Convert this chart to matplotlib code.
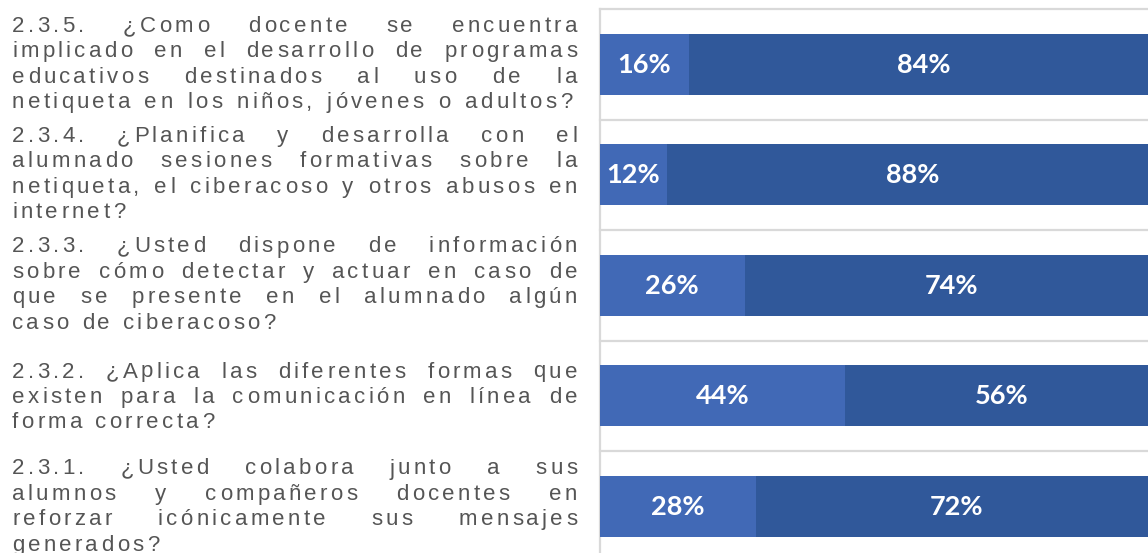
import numpy as np
import matplotlib
matplotlib.use("Agg")
import matplotlib.pyplot as plt
from matplotlib import font_manager
from matplotlib.ft2font import FT2Font, LoadFlags

# ---------------- data ----------------
categories = ["2.3.1", "2.3.2", "2.3.3", "2.3.4", "2.3.5"]
si_values = [28, 44, 26, 12, 16]
no_values = [72, 56, 74, 88, 84]

question_lines = [
    ["2.3.5. ¿Como docente se encuentra",
     "implicado en el desarrollo de programas",
     "educativos destinados al uso de la",
     "netiqueta en los niños, jóvenes o adultos?"],
    ["2.3.4. ¿Planifica y desarrolla con el",
     "alumnado sesiones formativas sobre la",
     "netiqueta, el ciberacoso y otros abusos en",
     "internet?"],
    ["2.3.3. ¿Usted dispone de información",
     "sobre cómo detectar y actuar en caso de",
     "que se presente en el alumnado algún",
     "caso de ciberacoso?"],
    ["2.3.2. ¿Aplica las diferentes formas que",
     "existen para la comunicación en línea de",
     "forma correcta?"],
    ["2.3.1. ¿Usted colabora junto a sus",
     "alumnos y compañeros docentes en",
     "reforzar icónicamente sus mensajes",
     "generados?"],
]
# whether the last line of each paragraph is stretched to full width
last_line_justified = [True, False, False, False, False]

# ---------------- style ----------------
W, H, DPI = 1148, 553, 100
c_light = "#4169B6"
c_dark = "#30589A"
grid_c = "#d9d9d9"
text_c = "#555555"

fig = plt.figure(figsize=(W / DPI, H / DPI), dpi=DPI)

ax_left, ax_right = 599.5, 1158.0
ax_top, ax_bottom = 9.0, 561.5
ax = fig.add_axes([ax_left / W, 1 - ax_bottom / H,
                   (ax_right - ax_left) / W, (ax_bottom - ax_top) / H])

y = np.arange(len(categories))
bar_h = 0.55
ax.barh(y, si_values, height=bar_h, color=c_light, zorder=3)
ax.barh(y, no_values, left=si_values, height=bar_h, color=c_dark, zorder=3)

for yi, a, b in zip(y, si_values, no_values):
    for left, val in ((0, a), (a, b)):
        ax.text(left + val / 2, yi - 0.005, f"{val}%", ha="center", va="center",
                color="white", fontsize=19.5, fontweight="bold", family="Lato",
                zorder=4)

ax.set_xlim(0, 100)
ax.set_ylim(-0.5, len(categories) - 0.5)
for b in np.arange(-0.5, len(categories), 1.0):
    ax.axhline(b, color=grid_c, lw=1.6, clip_on=False, zorder=1)
for s in ["top", "right", "bottom"]:
    ax.spines[s].set_visible(False)
ax.spines["left"].set_color(grid_c)
ax.spines["left"].set_linewidth(1.6)
ax.set_xticks([])
ax.set_yticks([])

# ---------------- letter-spaced, justified question text ----------------
fsize = 16.0
spacing = 3.3
fp = font_manager.FontProperties(family="Liberation Sans", size=fsize)
ft = FT2Font(font_manager.findfont(fp))
ft.set_size(fsize, DPI)


def adv(ch):
    g = ft.load_char(ord(ch), flags=LoadFlags.NO_HINTING)
    return g.linearHoriAdvance / 65536.0


x0, x1 = 12.0, 577.0
first_baselines = [32.0, 142.0, 252.5, 377.5, 474.5]
line_gap = 25.4

for p, (lines, base0) in enumerate(zip(question_lines, first_baselines)):
    for li, line in enumerate(lines):
        baseline = base0 + li * line_gap
        widths = [adv(c) for c in line]
        natural = sum(widths) + spacing * (len(line) - 1)
        is_last = li == len(lines) - 1
        n_spaces = line.count(" ")
        extra = 0.0
        if n_spaces > 0:
            target = x1 - 5 if (is_last and last_line_justified[p]) else x1
            extra = (target - x0 - natural) / n_spaces
            if is_last and not last_line_justified[p]:
                extra = min(0.0, extra)
        x = x0
        for c, w in zip(line, widths):
            if c != " ":
                fig.text(x / W, 1 - baseline / H, c, fontproperties=fp,
                         color=text_c, ha="left", va="baseline")
            x += w + spacing
            if c == " ":
                x += extra

fig.savefig("out.png", dpi=DPI)
